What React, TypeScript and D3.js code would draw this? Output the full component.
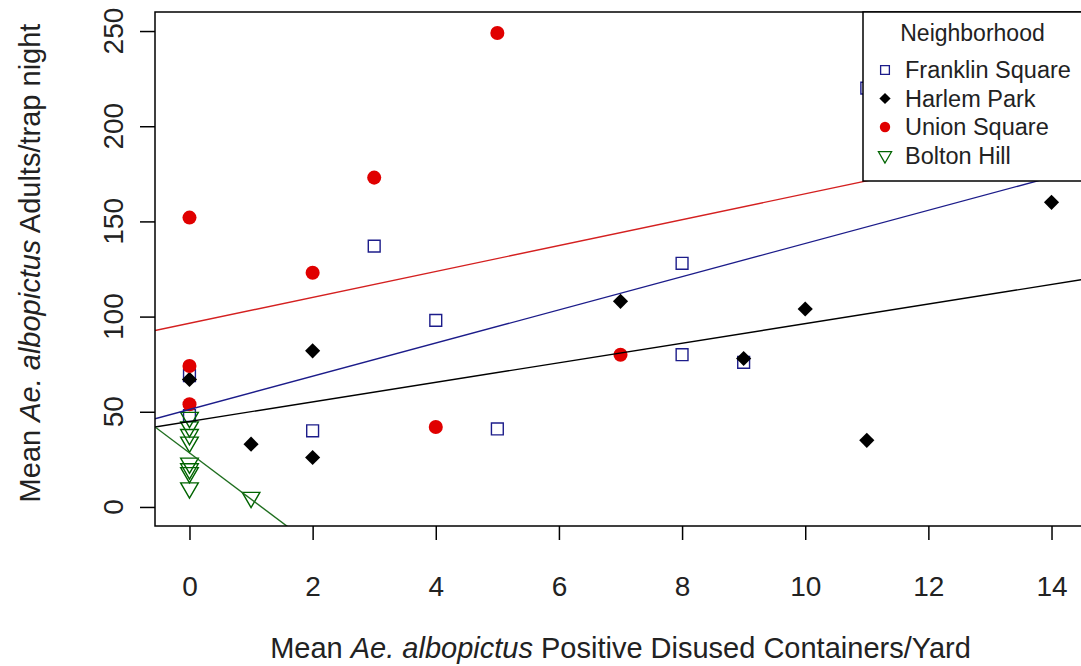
import { useEffect, useRef } from "react";
import * as d3 from "d3";

type Pt = [number, number];

const NEIGHBORHOODS = ["Franklin Square", "Harlem Park", "Union Square", "Bolton Hill"];

const FRANKLIN: Pt[] = [
  [0, 69], [0, 48], [2, 40], [3, 137], [4, 98], [5, 41], [8, 128], [8, 80], [9, 76], [11, 220],
];
const HARLEM: Pt[] = [
  [0, 67], [1, 33], [2, 82], [2, 26], [7, 108], [9, 78], [10, 104], [11, 35], [14, 160],
];
const UNION: Pt[] = [
  [0, 152], [0, 74], [0, 54], [2, 123], [3, 173], [4, 42], [5, 249], [7, 80],
];
const BOLTON: Pt[] = [
  [0, 47], [0, 42], [0, 38], [0, 34], [0, 23], [0, 20], [0, 18], [0, 10], [1, 5],
];

// fitted lines (intercept, slope)
const INTERCEPTS = [51.2, 44.9, 96.5, 28.4];
const SLOPES = [8.72, 5.14, 6.8, -24.3];

const X_TICKS = [0, 2, 4, 6, 8, 10, 12, 14];
const Y_TICKS = [0, 50, 100, 150, 200, 250];

const POINT_COLORS = ["#1c1c8a", "#000000", "#e00000", "#006400"];
const LINE_COLORS = ["#1c1c8a", "#000000", "#d42020", "#1f6e1f"];

const W = 1081;
const H = 666;
const FONT = "'Liberation Sans', Arial, sans-serif";

export default function App() {
  const ref = useRef<SVGSVGElement | null>(null);

  useEffect(() => {
    if (!ref.current) return;
    const svg = d3.select(ref.current);
    svg.selectAll("*").remove();

    const plot = { left: 155, right: 1086, top: 12, bottom: 526 };
    const x = d3.scaleLinear().domain([-0.56, 14.56]).range([plot.left, plot.right]);
    const y = d3.scaleLinear().domain([-10, 260]).range([plot.bottom, plot.top]);

    svg.append("rect").attr("width", W).attr("height", H).attr("fill", "#fff");

    svg
      .append("defs")
      .append("clipPath")
      .attr("id", "plotclip")
      .append("rect")
      .attr("x", plot.left)
      .attr("y", plot.top)
      .attr("width", plot.right - plot.left)
      .attr("height", plot.bottom - plot.top);

    const symbols = [
      { type: d3.symbolSquare, size: 140, fill: "none", rotate: 0 },
      { type: d3.symbolSquare, size: 115, fill: POINT_COLORS[1], rotate: 45 },
      { type: d3.symbolCircle, size: 155, fill: POINT_COLORS[2], rotate: 0 },
      { type: d3.symbolTriangle, size: 135, fill: "none", rotate: 180 },
    ];

    const series = [FRANKLIN, HARLEM, UNION, BOLTON];
    const pts = svg.append("g");
    series.forEach((data, i) => {
      const s = symbols[i];
      pts
        .selectAll(`path.s${i}`)
        .data(data)
        .enter()
        .append("path")
        .attr("d", d3.symbol().type(s.type).size(s.size)())
        .attr("transform", (d) => `translate(${x(d[0])},${y(d[1])}) rotate(${s.rotate})`)
        .attr("fill", s.fill)
        .attr("stroke", s.fill === "none" ? POINT_COLORS[i] : "none")
        .attr("stroke-width", 1.4);
    });

    // regression lines
    const lines = svg.append("g").attr("clip-path", "url(#plotclip)");
    const [x0, x1] = x.domain();
    INTERCEPTS.forEach((a, i) => {
      const b = SLOPES[i];
      lines
        .append("line")
        .attr("x1", x(x0))
        .attr("y1", y(a + b * x0))
        .attr("x2", x(x1))
        .attr("y2", y(a + b * x1))
        .attr("stroke", LINE_COLORS[i])
        .attr("stroke-width", 1.4);
    });

    // frame
    svg
      .append("rect")
      .attr("x", plot.left)
      .attr("y", plot.top)
      .attr("width", plot.right - plot.left)
      .attr("height", plot.bottom - plot.top)
      .attr("fill", "none")
      .attr("stroke", "#000")
      .attr("stroke-width", 1.5);

    // x axis
    const xa = svg.append("g").attr("transform", `translate(0,${plot.bottom})`);
    xa.call(
      d3
        .axisBottom(x)
        .tickValues(X_TICKS)
        .tickSize(14)
        .tickPadding(36)
        .tickFormat((d) => String(d))
    );
    xa.select(".domain").remove();
    xa.selectAll("line").attr("stroke", "#000").attr("stroke-width", 1.5);
    xa.selectAll("text")
      .attr("font-family", FONT)
      .attr("font-size", 28)
      .attr("fill", "#222");

    // y axis, labels parallel to the axis
    const ya = svg.append("g").attr("transform", `translate(${plot.left},0)`);
    ya.call(d3.axisLeft(y).tickValues(Y_TICKS).tickSize(15).tickFormat(() => ""));
    ya.select(".domain").remove();
    ya.selectAll("line").attr("stroke", "#000").attr("stroke-width", 1.5);
    svg
      .append("g")
      .selectAll("text")
      .data(Y_TICKS)
      .enter()
      .append("text")
      .attr("transform", (d) => `translate(123,${y(d)}) rotate(-90)`)
      .attr("text-anchor", "middle")
      .attr("font-family", FONT)
      .attr("font-size", 28)
      .attr("fill", "#222")
      .text((d) => String(d));

    // axis titles
    const xt = svg
      .append("text")
      .attr("x", (plot.left + plot.right) / 2)
      .attr("y", 658)
      .attr("text-anchor", "middle")
      .attr("font-family", FONT)
      .attr("font-size", 29)
      .attr("fill", "#222");
    xt.append("tspan").text("Mean ");
    xt.append("tspan").attr("font-style", "italic").text("Ae. albopictus");
    xt.append("tspan").text(" Positive Disused Containers/Yard");

    const yt = svg
      .append("text")
      .attr("transform", `translate(40,${(plot.top + plot.bottom) / 2 - 6}) rotate(-90)`)
      .attr("text-anchor", "middle")
      .attr("font-family", FONT)
      .attr("font-size", 29)
      .attr("fill", "#222");
    yt.append("tspan").text("Mean ");
    yt.append("tspan").attr("font-style", "italic").text("Ae. albopictus");
    yt.append("tspan").text(" Adults/trap night");

    // legend
    const lg = { left: 863, top: plot.top, bottom: 181 };
    svg
      .append("rect")
      .attr("x", lg.left)
      .attr("y", lg.top)
      .attr("width", plot.right - lg.left)
      .attr("height", lg.bottom - lg.top)
      .attr("fill", "#fff")
      .attr("stroke", "#000")
      .attr("stroke-width", 1.5);
    svg
      .append("text")
      .attr("x", (lg.left + plot.right) / 2 - 2)
      .attr("y", 41)
      .attr("text-anchor", "middle")
      .attr("font-family", FONT)
      .attr("font-size", 23)
      .attr("fill", "#222")
      .text("Neighborhood");
    const rows = svg
      .append("g")
      .selectAll("g")
      .data(NEIGHBORHOODS)
      .enter()
      .append("g")
      .attr("transform", (_, i) => `translate(885,${70 + i * 28.5})`);
    rows
      .append("path")
      .attr("d", (_, i) => d3.symbol().type(symbols[i].type).size(symbols[i].size * 0.55)())
      .attr("transform", (_, i) => `rotate(${symbols[i].rotate})`)
      .attr("fill", (_, i) => symbols[i].fill)
      .attr("stroke", (_, i) => (symbols[i].fill === "none" ? POINT_COLORS[i] : "none"))
      .attr("stroke-width", 1.3);
    rows
      .append("text")
      .attr("x", 20)
      .attr("y", 8)
      .attr("font-family", FONT)
      .attr("font-size", 23.5)
      .attr("fill", "#222")
      .text((d) => d);
  }, []);

  return (
    <svg
      ref={ref}
      width={W}
      height={H}
      style={{ position: "absolute", left: 0, top: 0, display: "block" }}
    />
  );
}
